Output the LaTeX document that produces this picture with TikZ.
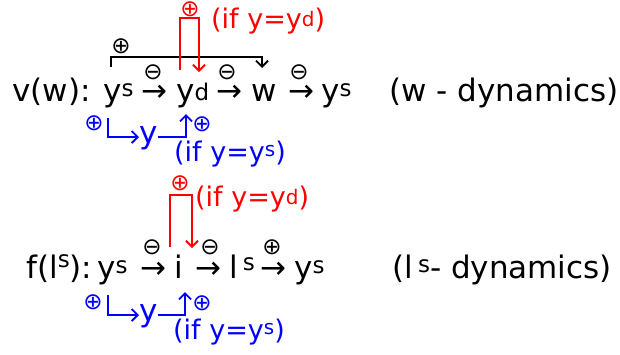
\documentclass[tikz,border=0pt]{standalone}
\usepackage{fontspec}
\setmainfont{DejaVu Sans}
\usetikzlibrary{arrows.meta}
\newcommand\hsup[2]{\raisebox{#1}{\fontsize{23}{23}\selectfont #2}}
\newcommand\nsup[2]{\raisebox{#1}{\fontsize{20}{20}\selectfont #2}}
\begin{document}
\begin{tikzpicture}[x=1pt, y=-1pt,
  txt/.style={inner sep=0pt, anchor=base west, font=\fontsize{31}{36}\selectfont},
  note/.style={inner sep=0pt, anchor=base west, font=\fontsize{27}{30}\selectfont},
  sign/.style={inner sep=0pt, font=\fontsize{23}{23}\selectfont},
  link/.style={line width=1.8pt, -{Straight Barb[length=6pt,width=12pt]}}]
\useasboundingbox (0,0) rectangle (620,354);

\node[txt] (vw) at (12,101) {v(w):};
\node[txt] (ysa) at (103,101) {y\hsup{5pt}{s}};
\node[txt] (ara) at (141,101) {→};
\node[txt] (yd) at (176,101) {y\hsup{1pt}{d}};
\node[txt] (arb) at (216,101) {→};
\node[txt] (w) at (251,101) {w};
\node[txt] (arc) at (288,101) {→};
\node[txt] (ysb) at (321,101) {y\hsup{5pt}{s}};
\node[txt] (wdyn) at (389,101) {(w - dynamics)};
\node[sign] (ma) at (153,72) {⊖};
\node[sign] (mb) at (227,72) {⊖};
\node[sign] (mc) at (299,72) {⊖};

\coordinate (bka) at (111,67);
\coordinate (bkb) at (262,68);
\node[sign] (pbk) at (121,46) {⊕};
\draw[link] (bka) -- ++(0,-10) -| (bkb);

\coordinate (rda) at (180,70);
\coordinate (rdb) at (199,72);
\node[sign, red] (prd) at (190,9) {⊕};
\node[note, red] (ifd) at (211,28) {(if y=y\nsup{2pt}{d})};
\draw[link, red] (rda) -- ++(0,-52) -| (rdb);

\node[sign, blue] (pbla) at (94,123) {⊕};
\node[txt, blue] (yb) at (139,143) {y};
\coordinate (bla) at (108,118);
\coordinate (blb) at (186,114);
\node[sign, blue] (pblb) at (202,124) {⊕};
\node[note, blue] (ifs) at (174,161) {(if y=y\nsup{5pt}{s})};
\draw[link, blue] (bla) |- (yb.west |- 0,137);
\draw[link, blue] (yb.east |- 0,137) -| (blb);

\node[txt] (fl) at (26,278) {f(l\hsup{11pt}{s}):};
\node[txt] (ysc) at (97,278) {y\hsup{5pt}{s}};
\node[txt] (ard) at (140,278) {→};
\node[txt] (i) at (174,278) {i};
\node[txt] (are) at (195,278) {→};
\node[txt] (ls) at (229,278) {l\,\hsup{8pt}{s}};
\node[txt] (arf) at (260,278) {→};
\node[txt] (ysd) at (294,278) {y\hsup{5pt}{s}};
\node[txt] (ldyn) at (392,278) {(l\,\hsup{6pt}{s}- dynamics)};
\node[sign] (md) at (152,247) {⊖};
\node[sign] (me) at (210,247) {⊖};
\node[sign] (pf) at (272,247) {⊕};

\coordinate (rdc) at (170,247);
\coordinate (rdd) at (192,248);
\node[sign, red] (prdb) at (180,183) {⊕};
\node[note, red] (ifdb) at (195,206) {(if y=y\nsup{2pt}{d})};
\draw[link, red] (rdc) -- ++(0,-52) -| (rdd);

\node[sign, blue] (pblc) at (93,302) {⊕};
\node[txt, blue] (ybb) at (139,321) {y};
\coordinate (blc) at (108,295);
\coordinate (bld) at (185,292);
\node[sign, blue] (pbld) at (202,303) {⊕};
\node[note, blue] (ifsb) at (173,339) {(if y=y\nsup{5pt}{s})};
\draw[link, blue] (blc) |- (ybb.west |- 0,315);
\draw[link, blue] (ybb.east |- 0,315) -| (bld);
\end{tikzpicture}
\end{document}
